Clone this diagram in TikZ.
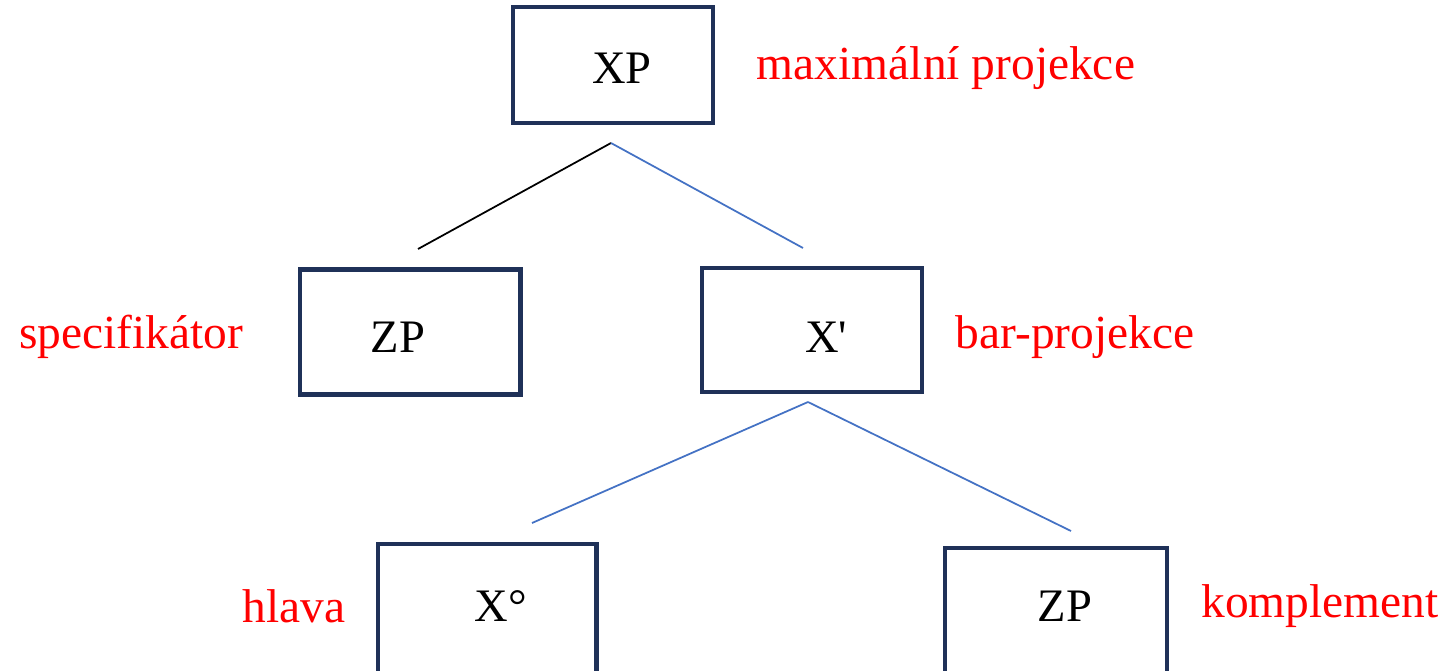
\documentclass[tikz,border=0pt]{standalone}
\usepackage{fontspec}
\setmainfont{Liberation Serif}
\definecolor{boxnavy}{HTML}{1F3158}
\definecolor{edgeblue}{HTML}{4472C4}

\begin{document}
\begin{tikzpicture}[x=0.02cm,y=-0.02cm,
		box/.style={draw=boxnavy,line width=2.3pt,inner sep=0pt},
		cat/.style={font=\fontsize{26.5}{30}\selectfont},
		role/.style={font=\fontsize{27}{30}\selectfont,text=red},
		edge/.style={line width=1pt}]
	\useasboundingbox (0,0) rectangle (1451,670);
	\clip (0,0) rectangle (1451,670);
	% boxes
		\node[box,minimum width=4cm,minimum height=2.32cm] (XP) at (613,65) {};
		\node[box,minimum width=4.42cm,minimum height=2.5cm] (ZPs) at (410,332) {};
		\node[box,minimum width=4.4cm,minimum height=2.48cm] (Xbar) at (812,330) {};
		\node[box,minimum width=4.38cm,minimum height=2.7cm] (Xnull) at (487,611) {};
		\node[box,minimum width=4.44cm,minimum height=2.7cm] (ZPc) at (1056,615) {};
	% categories
		\node[cat] (XPt) at (622,68) {XP};
		\node[cat] (ZPst) at (398,337) {ZP};
		\node[cat] (Xbart) at (826,337) {X\textquotesingle};
		\node[cat] (Xnullt) at (501,606) {X°};
		\node[cat] (ZPct) at (1065,606) {ZP};
	% roles
		\node[role] (max) at (946,68) {maximální projekce};
		\node[role] (spec) at (131,337) {specifikátor};
		\node[role] (bar) at (1075,337) {bar-projekce};
		\node[role] (head) at (294,606) {hlava};
		\node[role] (compl) at (1320,606) {komplement};
	% branch ends
		\coordinate (top) at (611,143);
		\coordinate (toL) at (418,249);
		\coordinate (toR) at (803,248);
		\coordinate (mid) at (808,402);
		\coordinate (midL) at (532,523);
		\coordinate (midR) at (1071,531);
		\draw[edge,black] (top) -- (toL);
		\draw[edge,edgeblue] (top) -- (toR);
		\draw[edge,edgeblue] (mid) -- (midL);
		\draw[edge,edgeblue] (mid) -- (midR);
\end{tikzpicture}
\end{document}
